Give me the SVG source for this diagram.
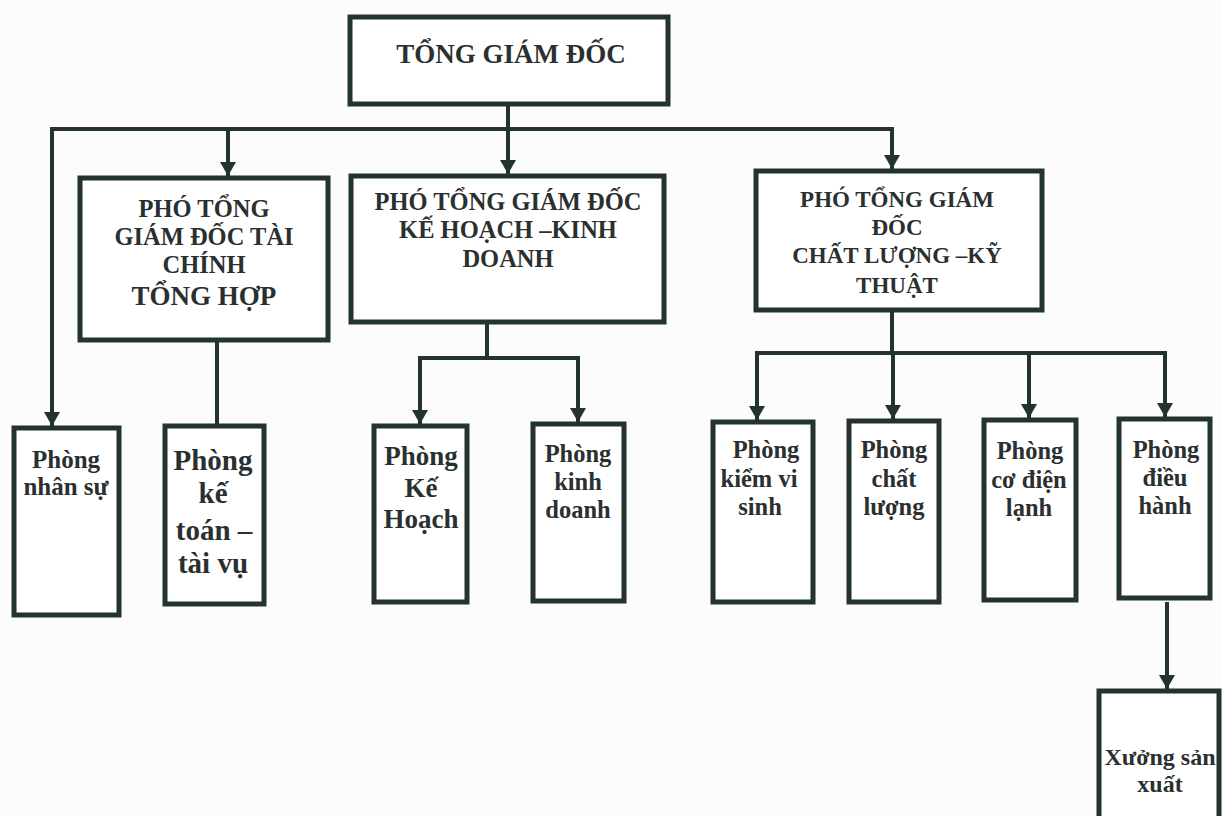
<svg xmlns="http://www.w3.org/2000/svg" width="1222" height="816" viewBox="0 0 1222 816">
<defs>
<style>
.box{fill:#fff;stroke:#223330;stroke-width:5}
.ln{fill:none;stroke:#223330;stroke-width:4}
.t{font-family:"Liberation Serif","Times New Roman",serif;font-weight:bold;fill:#2a302f;text-anchor:middle}
</style>
<marker id="ah" markerUnits="userSpaceOnUse" markerWidth="16" markerHeight="16" refX="14" refY="8" orient="auto" viewBox="0 0 16 16">
<path d="M0,0 L14,8 L0,16 Z" fill="#223330"/>
</marker>
</defs>
<rect width="1222" height="816" fill="#fcfcfa"/>

<g id="connectors">
<path class="ln" d="M508,104 V129"/>
<path class="ln" d="M508,129 H52 V426" marker-end="url(#ah)"/>
<path class="ln" d="M508,129 H892 V169" marker-end="url(#ah)"/>
<path class="ln" d="M228,129 V176" marker-end="url(#ah)"/>
<path class="ln" d="M508,129 V174" marker-end="url(#ah)"/>
<path class="ln" d="M217,340 V426"/>
<path class="ln" d="M487,313 V358"/>
<path class="ln" d="M487,358 H420 V424" marker-end="url(#ah)"/>
<path class="ln" d="M487,358 H578 V422" marker-end="url(#ah)"/>
<path class="ln" d="M892,310 V353"/>
<path class="ln" d="M892,353 H757 V420" marker-end="url(#ah)"/>
<path class="ln" d="M892,353 H1165 V417" marker-end="url(#ah)"/>
<path class="ln" d="M893,353 V419" marker-end="url(#ah)"/>
<path class="ln" d="M1029,353 V418" marker-end="url(#ah)"/>
<path class="ln" d="M1167,602 V689" marker-end="url(#ah)"/>
</g>

<g id="tong-giam-doc">
<rect class="box" x="350" y="17" width="318" height="87"/>
<text class="t" x="511" y="63" font-size="27">TỔNG GIÁM ĐỐC</text>
</g>

<g id="pho-tgd-tai-chinh">
<rect class="box" x="80" y="178" width="248" height="162"/>
<text class="t" x="204" y="217" font-size="24.5">PHÓ TỔNG</text>
<text class="t" x="204" y="245" font-size="24.5">GIÁM ĐỐC TÀI</text>
<text class="t" x="204" y="273" font-size="24.5">CHÍNH</text>
<text class="t" x="204" y="305" font-size="27">TỔNG HỢP</text>
</g>

<g id="pho-tgd-ke-hoach">
<rect class="box" x="351" y="176" width="313" height="146"/>
<text class="t" x="508" y="210" font-size="24.5">PHÓ TỔNG GIÁM ĐỐC</text>
<text class="t" x="508" y="238" font-size="24.5">KẾ HOẠCH –KINH</text>
<text class="t" x="508" y="267" font-size="24.5">DOANH</text>
</g>

<g id="pho-tgd-chat-luong">
<rect class="box" x="756" y="171" width="286" height="139"/>
<text class="t" x="897" y="207" font-size="23">PHÓ TỔNG GIÁM</text>
<text class="t" x="897" y="235" font-size="23">ĐỐC</text>
<text class="t" x="897" y="263" font-size="23">CHẤT LƯỢNG –KỸ</text>
<text class="t" x="897" y="293" font-size="23">THUẬT</text>
</g>

<g id="phong-nhan-su">
<rect class="box" x="14" y="428" width="105" height="187"/>
<text class="t" x="66" y="468" font-size="25">Phòng</text>
<text class="t" x="66" y="495" font-size="25">nhân sự</text>
</g>

<g id="phong-ke-toan">
<rect class="box" x="165" y="426" width="99" height="178"/>
<text class="t" x="213" y="470" font-size="29">Phòng</text>
<text class="t" x="213" y="503" font-size="29">kế</text>
<text class="t" x="214" y="540" font-size="29">toán –</text>
<text class="t" x="213" y="573" font-size="29">tài vụ</text>
</g>

<g id="phong-ke-hoach">
<rect class="box" x="374" y="426" width="93" height="176"/>
<text class="t" x="421" y="465" font-size="27">Phòng</text>
<text class="t" x="421" y="497" font-size="27">Kế</text>
<text class="t" x="421" y="528" font-size="27">Hoạch</text>
</g>

<g id="phong-kinh-doanh">
<rect class="box" x="533" y="424" width="91" height="177"/>
<text class="t" x="578" y="462" font-size="24.5">Phòng</text>
<text class="t" x="578" y="490" font-size="24.5">kinh</text>
<text class="t" x="578" y="518" font-size="24.5">doanh</text>
</g>

<g id="phong-kiem-vi-sinh">
<rect class="box" x="713" y="422" width="100" height="180"/>
<text class="t" x="766" y="458" font-size="24.5">Phòng</text>
<text class="t" x="759" y="487" font-size="24.5">kiểm vi</text>
<text class="t" x="760" y="515" font-size="24.5">sinh</text>
</g>

<g id="phong-chat-luong">
<rect class="box" x="849" y="421" width="90" height="181"/>
<text class="t" x="894" y="458" font-size="24.5">Phòng</text>
<text class="t" x="894" y="487" font-size="24.5">chất</text>
<text class="t" x="894" y="515" font-size="24.5">lượng</text>
</g>

<g id="phong-co-dien-lanh">
<rect class="box" x="984" y="420" width="92" height="180"/>
<text class="t" x="1030" y="459" font-size="24.5">Phòng</text>
<text class="t" x="1029" y="488" font-size="24.5">cơ điện</text>
<text class="t" x="1029" y="516" font-size="24.5">lạnh</text>
</g>

<g id="phong-dieu-hanh">
<rect class="box" x="1119" y="419" width="91" height="179"/>
<text class="t" x="1166" y="458" font-size="24.5">Phòng</text>
<text class="t" x="1165" y="486" font-size="24.5">điều</text>
<text class="t" x="1165" y="514" font-size="24.5">hành</text>
</g>

<g id="xuong-san-xuat">
<rect class="box" x="1099" y="691" width="120" height="135"/>
<text class="t" x="1160" y="765" font-size="24">Xưởng sản</text>
<text class="t" x="1160" y="792" font-size="24">xuất</text>
</g>
</svg>
